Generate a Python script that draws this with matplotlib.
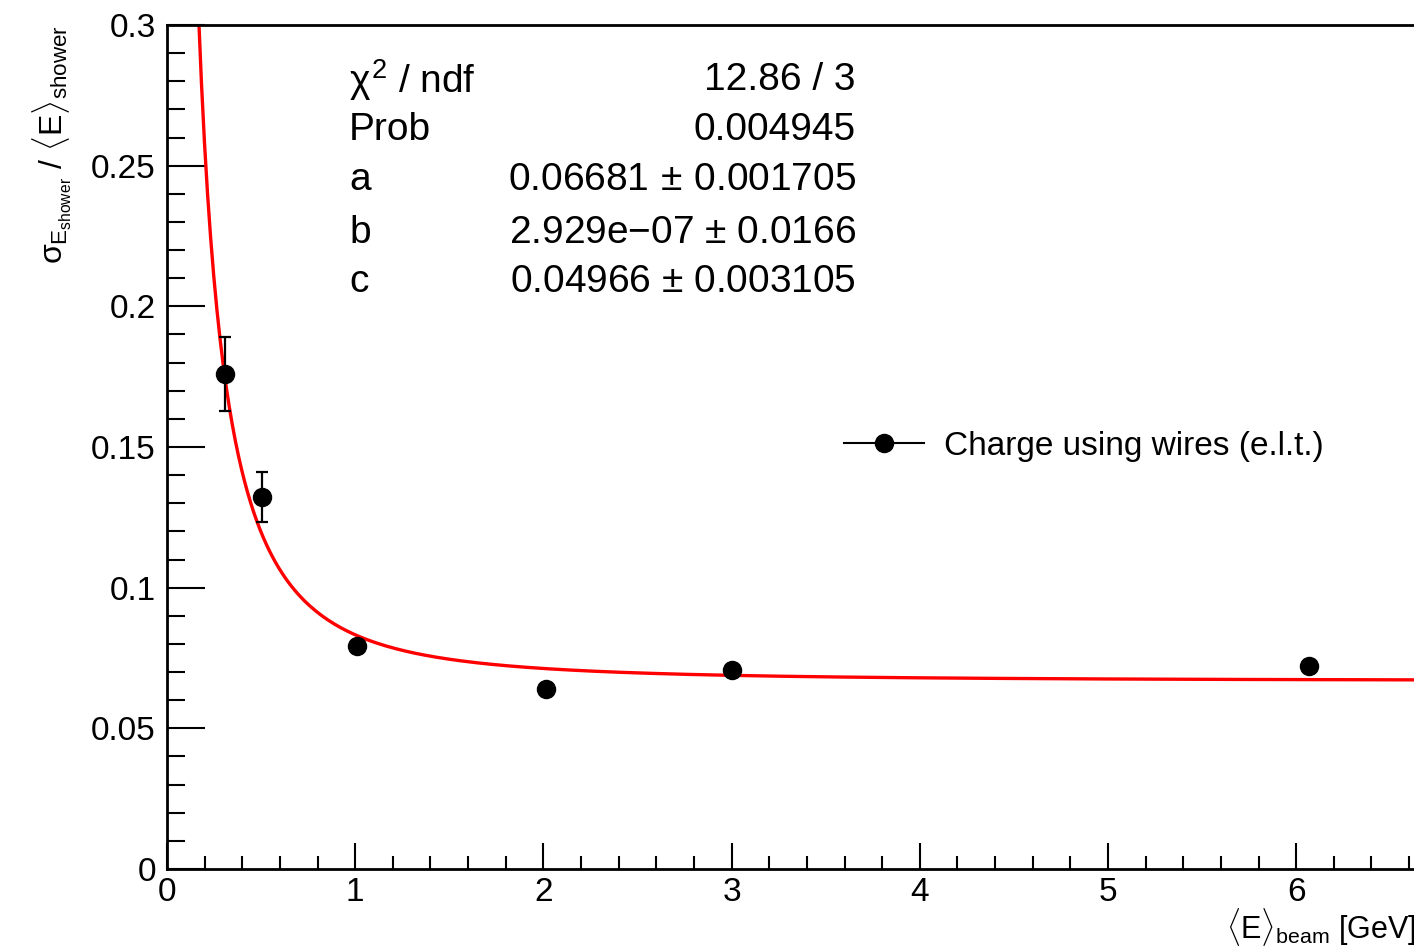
import numpy as np
import matplotlib
matplotlib.use("Agg")
import matplotlib.pyplot as plt
from matplotlib.lines import Line2D
from matplotlib.ticker import MultipleLocator, FormatStrFormatter

plt.rcParams['font.family'] = ['Liberation Sans', 'DejaVu Sans']
plt.rcParams['mathtext.fontset'] = 'custom'
plt.rcParams['mathtext.rm'] = 'Liberation Sans'
plt.rcParams['mathtext.it'] = 'Liberation Sans'
plt.rcParams['mathtext.sf'] = 'Liberation Sans'

# measured points
e_beam = [0.308, 0.505, 1.01, 2.014, 3.002, 6.068]
resolution = [0.1760, 0.1322, 0.0793, 0.0641, 0.0707, 0.0722]
res_err = [0.0132, 0.0089, 0.0015, 0.0008, 0.0008, 0.0006]

# fit parameters (from stats box)
fit_a = 0.06681
fit_b = 2.929e-07
fit_c = 0.04966

stat_labels = [r'$\chi^{2}$ / ndf', 'Prob', 'a', 'b', 'c']
stat_values = ['12.86 / 3', '0.004945', '0.06681$\\,\\pm\\,$0.001705',
               '2.929e\u221207 $\\pm$ 0.0166', '0.04966 $\\pm$ 0.003105']

fig = plt.figure(figsize=(14.14, 9.48), dpi=100)
W, H = 1414, 948
x0, x1 = 0.0, 6.7
px_per_x = 188.2
ax = fig.add_axes([167 / W, (H - 869) / H, (x1 - x0) * px_per_x / W, (869 - 25) / H])

# fit curve
xf = np.linspace(0.15, x1, 400)
yf = np.sqrt(fit_a**2 + fit_b**2 / xf + fit_c**2 / xf**2)
ax.plot(xf, yf, color='#ff0000', lw=2.4, zorder=2)

ax.errorbar(e_beam, resolution, yerr=res_err, fmt='o', color='black',
            ms=13, elinewidth=1.6, capsize=4, capthick=1.6, zorder=3)

ax.set_xlim(x0, x1)
ax.set_ylim(0, 0.3)
ax.xaxis.set_major_locator(MultipleLocator(1))
ax.xaxis.set_minor_locator(MultipleLocator(0.2))
ax.yaxis.set_major_locator(MultipleLocator(0.05))
ax.yaxis.set_minor_locator(MultipleLocator(0.01))
ax.yaxis.set_major_formatter(FormatStrFormatter('%g'))
ax.xaxis.set_major_formatter(FormatStrFormatter('%g'))
ax.tick_params(axis='x', which='major', direction='in', length=19, width=1.5,
               labelsize=24, pad=6, top=False)
ax.tick_params(axis='x', which='minor', direction='in', length=9.5, width=1.5, top=False)
ax.tick_params(axis='y', which='major', direction='in', length=27, width=1.5,
               labelsize=24, pad=8, right=False)
ax.tick_params(axis='y', which='minor', direction='in', length=13, width=1.5, right=False)
for s in ['left', 'bottom', 'top']:
    ax.spines[s].set_linewidth(2)
ax.spines['right'].set_visible(False)

# axis titles
fig.text(52 / W, 1 - 25 / H,
         r'$\sigma_{E_{\mathrm{shower}}}$ / $\langle$E$\rangle_{\mathrm{shower}}$',
         rotation=90, ha='center', va='top', fontsize=23)
fig.text(1416 / W, (H - 938) / H, r'$\langle$E$\rangle_{\mathrm{beam}}$ [GeV]',
         ha='right', va='baseline', fontsize=22)

# stats box
row_y = [80, 130, 180, 233, 282]
for lab, val, yp in zip(stat_labels, stat_values, row_y):
    fig.text(349 / W, 1 - yp / H, lab, ha='left', va='center', fontsize=28)
    fig.text(856 / W, 1 - yp / H, val, ha='right', va='center', fontsize=28)

# legend
handle = Line2D([], [], color='black', lw=1.5, marker='o', ms=13)
ax.legend([handle], ['Charge using wires (e.l.t.)'], loc='center left',
          bbox_to_anchor=(844 / W, 1 - 446 / H), bbox_transform=fig.transFigure,
          frameon=False, fontsize=24, handlelength=2.4, handletextpad=0.6,
          borderaxespad=0, borderpad=0)

fig.savefig('out.png', dpi=100)
